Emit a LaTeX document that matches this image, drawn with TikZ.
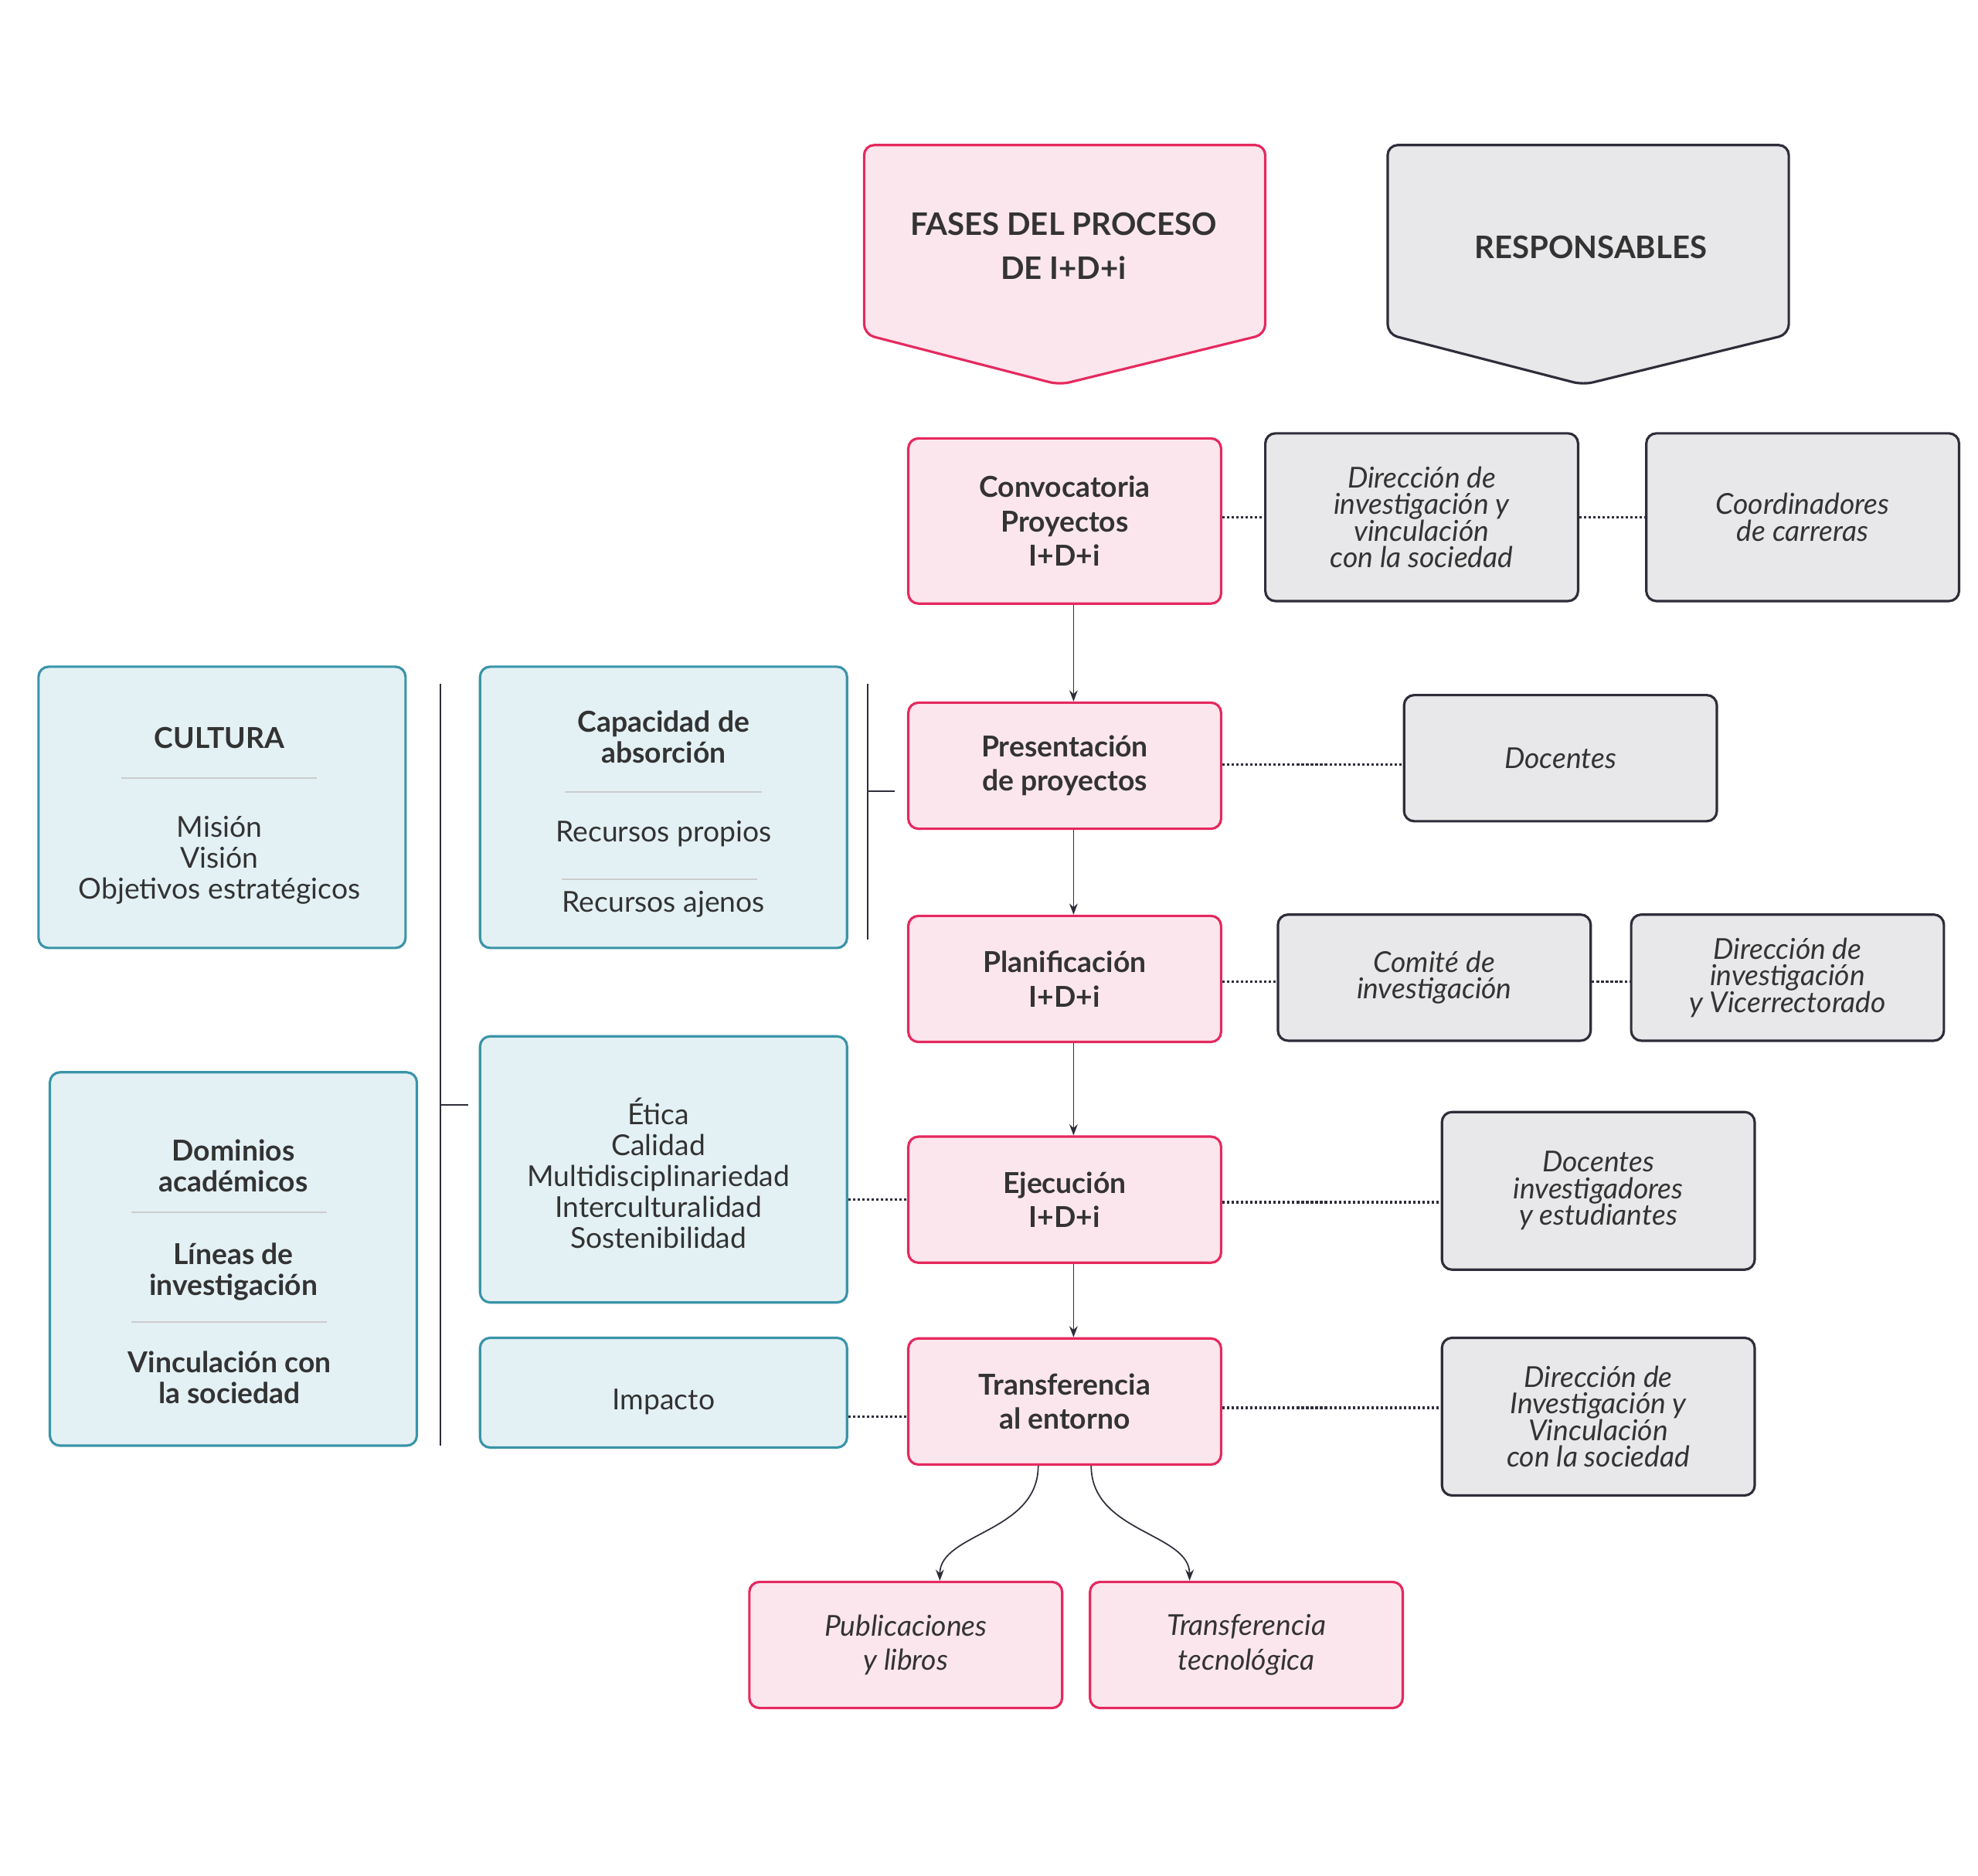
\documentclass[tikz,border=0pt]{standalone}
\usepackage{fontspec}
\setmainfont{Lato}
\usetikzlibrary{arrows.meta}
\definecolor{pinkfill}{HTML}{FCE6EE}
\definecolor{pinkline}{HTML}{E5295F}
\definecolor{grayfill}{HTML}{E8E8EA}
\definecolor{grayline}{HTML}{2E2E3A}
\definecolor{bluefill}{HTML}{E3F1F5}
\definecolor{blueline}{HTML}{3A94A8}
\definecolor{txt}{HTML}{333333}
\tikzset{
  box/.style={draw, rounded corners=0.16cm, line width=1.1pt, minimum width=4.96cm, minimum height=2cm, align=center, text=txt, font=\fontsize{13}{15.5}\selectfont},
  phase/.style={box, fill=pinkfill, draw=pinkline, font=\fontsize{13}{15.5}\selectfont\bfseries},
  resp/.style={box, fill=grayfill, draw=grayline, font=\fontsize{13}{12}\selectfont\itshape},
  outp/.style={box, fill=pinkfill, draw=pinkline, font=\fontsize{13}{15.5}\selectfont\itshape},
  blue/.style={draw=blueline, fill=bluefill, rounded corners=0.16cm, line width=1.1pt, minimum width=5.82cm},
  lbl/.style={align=center, text=txt, font=\fontsize{13}{15.5}\selectfont},
  sep/.style={draw=black!20, line width=0.6pt},
  dots/.style={densely dotted, line width=1.1pt, draw=grayline},
  arr/.style={-{Stealth[length=5pt]}, draw=grayline, line width=0.6pt},
}
\begin{document}
\begin{tikzpicture}[x=0.02cm, y=-0.02cm]
\useasboundingbox (0,0) rectangle (1568,1487);

% headers
\draw[fill=pinkfill, draw=pinkline, line width=1.1pt, rounded corners=0.16cm]
  (685,115) -- (1003,115) -- (1003,265) -- (840,305) -- (685,265) -- cycle;
\node[lbl, font=\fontsize{14}{20}\selectfont\bfseries] (fases) at (843,195) {FASES DEL PROCESO\\DE I+D+i};
\draw[fill=grayfill, draw=grayline, line width=1.1pt, rounded corners=0.16cm]
  (1100,115) -- (1418,115) -- (1418,265) -- (1255,305) -- (1100,265) -- cycle;
\node[lbl, font=\fontsize{14}{20}\selectfont\bfseries] (resps) at (1261,196) {RESPONSABLES};

% phases
\node[phase, minimum height=2.62cm] (conv) at (844,413) {Convocatoria\\Proyectos\\I+D+i};
\node[phase] (pres) at (844,607) {Presentación\\de proyectos};
\node[phase] (plan) at (844,776) {Planificación\\I+D+i};
\node[phase] (ejec) at (844,951) {Ejecución\\I+D+i};
\node[phase] (trans) at (844,1111) {Transferencia\\al entorno};

% responsables
\node[resp, minimum height=2.66cm] (dirA) at (1127,410) {Dirección de\\investigación y\\vinculación\\con la sociedad};
\node[resp, minimum height=2.66cm] (coord) at (1429,410) {Coordinadores\\de carreras};
\node[resp] (doc) at (1237,601) {Docentes};
\node[resp] (comite) at (1137,775) {Comité de\\investigación};
\node[resp] (dirB) at (1417,775) {Dirección de\\investigación\\y Vicerrectorado};
\node[resp, minimum height=2.5cm] (docinv) at (1267,944) {Docentes\\investigadores\\y estudiantes};
\node[resp, minimum height=2.5cm] (dirC) at (1267,1123) {Dirección de\\Investigación y\\Vinculación\\con la sociedad};

% outputs
\node[outp] (pub) at (718,1304) {Publicaciones\\y libros};
\node[outp] (tec) at (988,1304) {Transferencia\\tecnológica};

% blue boxes
\node[blue, minimum height=4.46cm] (cult) at (176,640) {};
\node[lbl, font=\fontsize{13}{15.5}\selectfont\bfseries] (cultT) at (174,585) {CULTURA};
\draw[sep] (96,617) -- (251,617);
\node[lbl, font=\fontsize{13}{14}\selectfont] (cultL) at (174,682) {Misión\\Visión\\Objetivos estratégicos};

\node[blue, minimum height=5.92cm] (dom) at (185,998) {};
\node[lbl, font=\fontsize{13}{14}\selectfont\bfseries] (domA) at (185,924) {Dominios\\académicos};
\draw[sep] (104,961) -- (259,961);
\node[lbl, font=\fontsize{13}{14}\selectfont\bfseries] (domB) at (185,1008) {Líneas de\\investigación};
\draw[sep] (104,1048) -- (259,1048);
\node[lbl, font=\fontsize{13}{14}\selectfont\bfseries] (domC) at (182,1092) {Vinculación con\\la sociedad};

\node[blue, minimum height=4.46cm] (cap) at (526,640) {};
\node[lbl, font=\fontsize{13}{14}\selectfont\bfseries] (capT) at (526,584) {Capacidad de\\absorción};
\draw[sep] (448,628) -- (604,628);
\node[lbl] (capA) at (526,661) {Recursos propios};
\draw[sep] (445,697) -- (600,697);
\node[lbl] (capB) at (526,717) {Recursos ajenos};

\node[blue, minimum height=4.22cm] (eti) at (526,927) {};
\node[lbl, font=\fontsize{13}{14}\selectfont] (etiT) at (522,930) {Ética\\Calidad\\Multidisciplinariedad\\Interculturalidad\\Sostenibilidad};

\node[blue, minimum height=1.74cm] (imp) at (526,1104) {};
\node[lbl] (impT) at (526,1111) {Impacto};

% brackets
\draw[grayline, line width=0.6pt] (349,542) -- (349,1146) (349,876) -- (371,876);
\draw[grayline, line width=0.6pt] (688,542) -- (688,745) (688,627) -- (709,627);

% arrows
\draw[arr] (conv.south -| 851,0) -- (pres.north -| 851,0);
\draw[arr] (pres.south -| 851,0) -- (plan.north -| 851,0);
\draw[arr] (plan.south -| 851,0) -- (ejec.north -| 851,0);
\draw[arr] (ejec.south -| 851,0) -- (trans.north -| 851,0);
\draw[arr] (trans.south -| 823,0) .. controls (823,1215) and (745,1215) .. (pub.north -| 745,0);
\draw[arr] (trans.south -| 865,0) .. controls (865,1215) and (943,1215) .. (tec.north -| 943,0);

% dotted links
\draw[dots] (conv.east |- 0,410) -- (dirA.west |- 0,410);
\draw[dots] (dirA.east |- 0,410) -- (coord.west |- 0,410);
\draw[dots] (pres.east |- 0,606) -- (doc.west |- 0,606);
\draw[dots] (plan.east |- 0,778) -- (comite.west |- 0,778);
\draw[dots] (comite.east |- 0,778) -- (dirB.west |- 0,778);
\draw[dots] (ejec.east |- 0,953) -- (docinv.west |- 0,953);
\draw[dots] (trans.east |- 0,1116) -- (dirC.west |- 0,1116);
\draw[dots] (eti.east |- 0,951) -- (ejec.west |- 0,951);
\draw[dots] (imp.east |- 0,1123) -- (trans.west |- 0,1123);
\end{tikzpicture}
\end{document}
